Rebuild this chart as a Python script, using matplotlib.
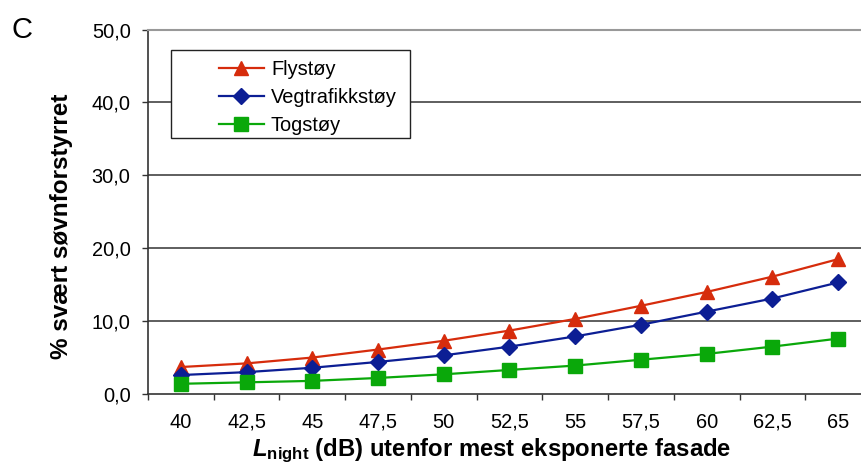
import matplotlib.pyplot as plt
from matplotlib.patches import Rectangle

plt.rcParams['font.family'] = ['Liberation Sans', 'DejaVu Sans']
plt.rcParams['mathtext.fontset'] = 'custom'
plt.rcParams['mathtext.rm'] = 'Liberation Sans'
plt.rcParams['mathtext.bf'] = 'Liberation Sans:bold'
plt.rcParams['mathtext.it'] = 'Liberation Sans:italic'
plt.rcParams['mathtext.bfit'] = 'Liberation Sans:bold:italic'

# L_night categories (dB) and % highly sleep disturbed per source
lnight_labels = ['40', '42,5', '45', '47,5', '50', '52,5', '55', '57,5', '60', '62,5', '65']
flystoy = [3.7, 4.2, 5.0, 6.1, 7.3, 8.7, 10.3, 12.1, 14.0, 16.1, 18.5]
vegtrafikkstoy = [2.6, 3.0, 3.6, 4.4, 5.3, 6.5, 7.9, 9.5, 11.3, 13.1, 15.3]
togstoy = [1.4, 1.6, 1.8, 2.2, 2.7, 3.3, 3.9, 4.7, 5.5, 6.5, 7.6]
y_ticks = [0, 10, 20, 30, 40, 50]

fig = plt.figure(figsize=(8.62, 4.71), dpi=100)
ax = fig.add_axes([148 / 862, 77 / 471, 723 / 862, 364.5 / 471])

x = list(range(len(lnight_labels)))
ax.plot(x, flystoy, color='#d62c0c', lw=1.6, marker='^', ms=10, label='Flystøy', zorder=4)
ax.plot(x, vegtrafikkstoy, color='#0c1e94', lw=1.6, marker='D', ms=8, label='Vegtrafikkstøy', zorder=4)
ax.plot(x, togstoy, color='#0aa80a', lw=1.6, marker='s', ms=10, label='Togstøy', zorder=4)

ax.set_xlim(-0.5, len(x) - 0.5)
ax.set_ylim(0, 50)

# category labels centred, tick marks on the boundaries
ax.set_xticks(x)
ax.set_xticklabels(lnight_labels, fontsize=14.4)
ax.set_xticks([i - 0.5 for i in range(len(x) + 1)], minor=True)
ax.tick_params(axis='x', which='major', length=0, pad=13.5)
ax.tick_params(axis='x', which='minor', length=4.5, width=1, color='#333333', direction='out')

ax.set_yticks(y_ticks)
ax.set_yticklabels([f'{v:.1f}'.replace('.', ',') for v in y_ticks], fontsize=14.4)
ax.tick_params(axis='y', length=4.5, width=1, color='#333333', direction='out', pad=8)

for v in y_ticks[1:-1]:
    ax.axhline(v, color='#333333', lw=1.1, zorder=1)

for side in ['top', 'right']:
    ax.spines[side].set_color('#999999')
    ax.spines[side].set_linewidth(1.5)
for side in ['left', 'bottom']:
    ax.spines[side].set_color('#333333')
    ax.spines[side].set_linewidth(1.2)

ax.set_ylabel('% svært søvnforstyrret', fontsize=17.5, fontweight='bold')
ax.yaxis.set_label_coords(-0.104, 0.461)
ax.set_xlabel(r'$\mathbfit{L}_{\mathbf{night}}$ (dB) utenfor mest eksponerte fasade',
              fontsize=17.2, fontweight='bold')
ax.xaxis.set_label_coords(0.475, -0.118)

fig.text(12 / 862, 1 - 30 / 471, 'C', fontsize=21, va='center', ha='left')

# legend box
fig.patches.append(Rectangle((171 / 862, 1 - 138 / 471), 239 / 862, 88 / 471,
                             transform=fig.transFigure, fill=True, facecolor='white',
                             edgecolor='#222222', lw=1.0, zorder=5))
leg = fig.legend(loc='upper left', bbox_to_anchor=(219 / 862, 1 - 60 / 471), frameon=False,
                 fontsize=14.4, handlelength=2.25, handletextpad=0.35, labelspacing=0.45,
                 borderpad=0.0, borderaxespad=0.0)
leg.set_zorder(6)

fig.savefig('out.png', dpi=100)
